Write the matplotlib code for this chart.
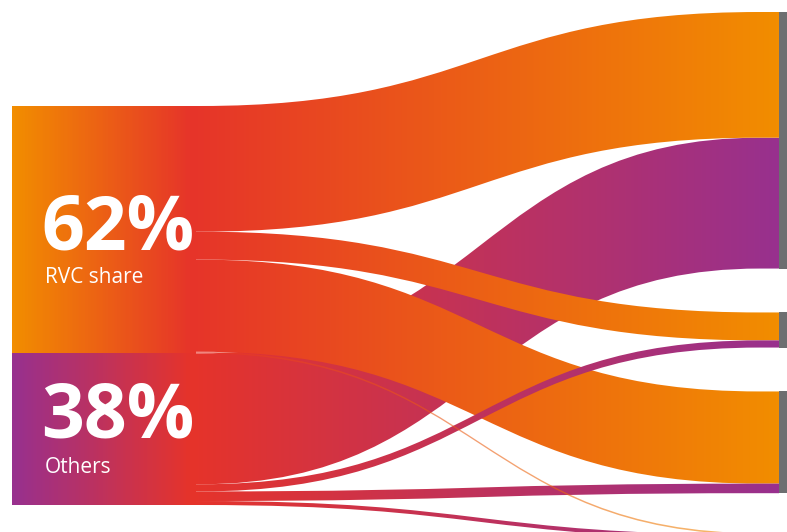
import numpy as np
import matplotlib
matplotlib.use("Agg")
import matplotlib.pyplot as plt
from matplotlib.path import Path
from matplotlib.patches import PathPatch, Rectangle
from matplotlib.colors import LinearSegmentedColormap

# ------------------------------------------------------------------------
# Data (shares in % of the left column)
# ------------------------------------------------------------------------
source_labels = ["RVC share", "Others"]
source_pct = [62, 38]
# flows from each source to the four right-hand nodes (last one is cut off below)
rvc_flows = [31.5, 7.0, 23.1, 0.4]
other_flows = [32.8, 1.8, 2.4, 1.0]

# ------------------------------------------------------------------------
# Layout / style
# ------------------------------------------------------------------------
W, H = 787, 532
PX = 3.99                  # pixels per percent
LEFT_TOP = 106
RIGHT_TOP = 12
RIGHT_GAPS = [11, 11, 10]  # gaps between right nodes, in percent
X_LEFT, X_NODE, X_C0, X_C1, X_RIGHT = 12, 196, 200, 760, 779
BAR_W = 8
PCT_BASELINE = [250, 437]
SUB_BASELINE = [283, 473]

ORANGE = "#F28D00"
PURPLE = "#98308E"
RED = "#E6342A"
GREY = "#6D6E70"
src_colors = [ORANGE, PURPLE]


def link_path(y0t, y0b, y1t, y1b):
    xm = (X_C0 + X_C1) / 2
    verts = [(X_LEFT, y0t), (X_C0, y0t),
             (xm, y0t), (xm, y1t), (X_C1, y1t),
             (X_RIGHT, y1t), (X_RIGHT, y1b), (X_C1, y1b),
             (xm, y1b), (xm, y0b), (X_C0, y0b),
             (X_LEFT, y0b), (X_LEFT, y0t)]
    codes = [Path.MOVETO, Path.LINETO,
             Path.CURVE4, Path.CURVE4, Path.CURVE4,
             Path.LINETO, Path.LINETO, Path.LINETO,
             Path.CURVE4, Path.CURVE4, Path.CURVE4,
             Path.LINETO, Path.CLOSEPOLY]
    return Path(verts, codes)


def gradient_cmap(color):
    span = X_RIGHT - X_LEFT
    return LinearSegmentedColormap.from_list(
        "g", [(0, color), ((190 - X_LEFT) / span, RED), (1, color)])


fig = plt.figure(figsize=(W / 100, H / 100), dpi=100)
ax = fig.add_axes([0, 0, 1, 1])
ax.axis("off")

flows = [rvc_flows, other_flows]
n_targets = len(rvc_flows)

# node positions
left_y = [LEFT_TOP]
for p in source_pct[:-1]:
    left_y.append(left_y[-1] + p * PX)

target_tot = [sum(f[i] for f in flows) for i in range(n_targets)]
right_y = [RIGHT_TOP]
for t, g in zip(target_tot[:-1], RIGHT_GAPS):
    right_y.append(right_y[-1] + (t + g) * PX)

# stacking offsets on both sides
link_map = {}
src_off = list(left_y)
for s in range(len(flows)):
    for i in range(n_targets):
        h = flows[s][i] * PX
        link_map[(s, i)] = (src_off[s], src_off[s] + h)
        src_off[s] += h
ends = {}
tgt_off = list(right_y)
for i in range(n_targets):
    for s in range(len(flows)):
        h = flows[s][i] * PX
        ends[(s, i)] = (tgt_off[i], tgt_off[i] + h)
        tgt_off[i] += h

grad = np.linspace(0, 1, 600).reshape(1, -1)


def gradient_fill(patch, color, alpha=1.0):
    ax.add_patch(patch)
    im = ax.imshow(grad, cmap=gradient_cmap(color), aspect="auto", alpha=alpha,
                   extent=(X_LEFT, X_RIGHT, 600, -20), interpolation="bilinear")
    im.set_clip_path(patch)


# drawing order: big purple flow underneath, orange next, thin purple last
order = [(1, 0), (0, 0), (0, 1), (0, 2), (1, 1), (1, 2), (1, 3), (0, 3)]
for s, i in order:
    y0t, y0b = link_map[(s, i)]
    y1t, y1b = ends[(s, i)]
    patch = PathPatch(link_path(y0t, y0b, y1t, y1b), facecolor="none",
                      edgecolor="none", transform=ax.transData)
    # hairline flows look washed out in the original
    gradient_fill(patch, src_colors[s], alpha=0.6 if flows[s][i] < 0.5 else 1.0)

# solid left node blocks (cover the seams between links)
for s in range(len(source_pct)):
    rect = Rectangle((X_LEFT, left_y[s]), X_NODE - X_LEFT, source_pct[s] * PX,
                     facecolor="none", edgecolor="none", transform=ax.transData)
    gradient_fill(rect, src_colors[s])

# grey bars for the right nodes
for i in range(n_targets):
    ax.add_patch(Rectangle((X_RIGHT, right_y[i]), BAR_W, target_tot[i] * PX,
                           facecolor=GREY, edgecolor="none"))

# labels
for s in range(len(source_labels)):
    ax.text(41, PCT_BASELINE[s], f"{source_pct[s]}%", color="white",
            fontsize=54, fontweight="bold", family="Open Sans",
            va="baseline", ha="left")
    ax.text(45, SUB_BASELINE[s], source_labels[s], color="white", fontsize=15,
            family="Open Sans", va="baseline", ha="left")

ax.set_xlim(0, W)
ax.set_ylim(H, 0)
fig.savefig("out.png", dpi=100)
